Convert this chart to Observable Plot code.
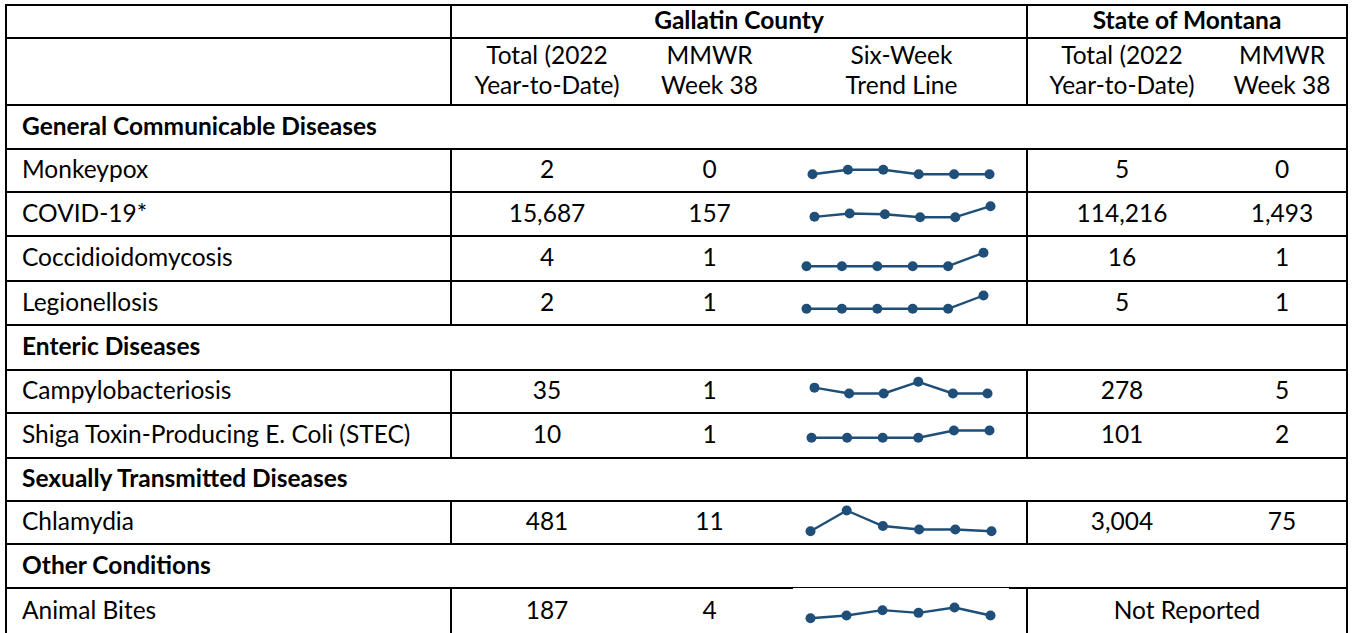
<!DOCTYPE html>
<html>
<head>
<meta charset="utf-8">
<script src="https://cdn.jsdelivr.net/npm/d3@7"></script>
<script src="https://cdn.jsdelivr.net/npm/@observablehq/plot@0.6"></script>
<style>
  body { margin: 0; background: #fff; }
  #wrap { position: relative; width: 1353px; height: 633px; overflow: hidden; font-family: Lato, "Noto Sans", sans-serif; color: #000; }
  .cell { position: absolute; display: flex; align-items: center; justify-content: center; text-align: center; font-size: 24.5px; line-height: 30px; box-sizing: border-box; white-space: nowrap; padding-bottom: 3px; }
  .left { justify-content: flex-start; text-align: left; padding-left: 16px; }
  .bold { font-weight: 700; }
  .hl { position: absolute; background: #000; height: 2px; }
  .vl { position: absolute; background: #000; width: 2px; }
  .spark { position: absolute; }
  .spark svg { display: block; background: transparent; }
  .patch { position: absolute; background: #fff; }
</style>
</head>
<body>
<div id="wrap"></div>
<script>
// ---------- data ----------
const sections = ["General Communicable Diseases", "Enteric Diseases", "Sexually Transmitted Diseases", "Other Conditions"];
const diseases = ["Monkeypox", "COVID-19*", "Coccidioidomycosis", "Legionellosis", "Campylobacteriosis", "Shiga Toxin-Producing E. Coli (STEC)", "Chlamydia", "Animal Bites"];
const diseaseSection = [0, 0, 0, 0, 1, 1, 2, 3];
const gallatinYTD = [2, 15687, 4, 2, 35, 10, 481, 187];
const gallatinWeek38 = [0, 157, 1, 1, 1, 1, 11, 4];
const montanaYTD = [5, 114216, 16, 5, 278, 101, 3004, null];
const montanaWeek38 = [0, 1493, 1, 1, 5, 2, 75, null];
const trendWeeks = [33, 34, 35, 36, 37, 38];
const sixWeekTrend = [
  [0, 1, 1, 0, 0, 0],
  [128, 137, 135, 127, 127, 157],
  [0, 0, 0, 0, 0, 1],
  [0, 0, 0, 0, 0, 1],
  [2, 1, 1, 3, 1, 1],
  [0, 0, 0, 0, 1, 1],
  [11, 23, 14, 12, 12, 11],
  [3, 4, 6, 5, 7, 4]
];
const groupHeaders = ["Gallatin County", "State of Montana"];
const columnHeaders = ["Total (2022<br>Year-to-Date)", "MMWR<br>Week 38", "Six-Week<br>Trend Line", "Total (2022<br>Year-to-Date)", "MMWR<br>Week 38"];
const notReported = "Not Reported";

// ---------- layout ----------
const colLines = [6, 451, 643, 776, 1027, 1217, 1347];
const rowLines = [5, 38, 105, 149, 192, 236, 281, 325, 370, 413, 458, 501, 544, 588, 634];
// sparkline placement inside its cell: [top of max, top of min, x of first, x of last] (offsets from cell corner)
const sparkLayout = [
  [20.3, 24.7, 36, 213],
  [13.7, 24.7, 38, 214],
  [16.3, 29.7, 30, 207],
  [14, 27.3, 30, 207],
  [11.3, 23, 38, 211],
  [17, 24.3, 35, 213],
  [9, 29.7, 34, 215],
  [19, 29.7, 34, 214]
];
const sparkColor = "#1F4E79";

const wrap = document.getElementById("wrap");
const fmt = d3.format(",");

function el(cls, style, html) {
  const d = document.createElement("div");
  d.className = cls;
  Object.assign(d.style, style);
  if (html != null) d.innerHTML = html;
  wrap.appendChild(d);
  return d;
}
function cell(c0, c1, r, html, extra = "") {
  return el("cell " + extra, {
    left: colLines[c0] + "px", top: rowLines[r] + "px",
    width: (colLines[c1] - colLines[c0]) + "px", height: (rowLines[r + 1] - rowLines[r]) + "px"
  }, html);
}
function hline(y, x0, x1) { el("hl", {left: (x0 - 1) + "px", top: (y - 1) + "px", width: (x1 - x0 + 2) + "px"}); }
function vline(x, y0, y1) { el("vl", {left: (x - 1) + "px", top: (y0 - 1) + "px", height: (y1 - y0 + 2) + "px"}); }

// build row list
const rows = [];
sections.forEach((s, si) => {
  rows.push({type: "section", label: s});
  diseases.forEach((d, i) => { if (diseaseSection[i] === si) rows.push({type: "disease", i}); });
});

// header
cell(1, 4, 0, groupHeaders[0], "bold");
cell(4, 6, 0, groupHeaders[1], "bold");
columnHeaders.forEach((h, k) => cell(k + 1, k + 2, 1, h));

// grid lines
rowLines.forEach(y => hline(y, colLines[0], colLines[6]));
vline(colLines[0], rowLines[0], rowLines[rowLines.length - 1]);
vline(colLines[6], rowLines[0], rowLines[rowLines.length - 1]);
for (let r = 0; r < rowLines.length - 1; r++) {
  const isSection = r >= 2 && rows[r - 2].type === "section";
  if (!isSection) {
    vline(colLines[1], rowLines[r], rowLines[r + 1]);
    vline(colLines[4], rowLines[r], rowLines[r + 1]);
  }
}

// body
rows.forEach((row, k) => {
  const r = k + 2;
  if (row.type === "section") {
    cell(0, 6, r, row.label, "left bold");
  } else {
    const i = row.i;
    cell(0, 1, r, diseases[i], "left");
    cell(1, 2, r, fmt(gallatinYTD[i]));
    cell(2, 3, r, fmt(gallatinWeek38[i]));
    if (montanaYTD[i] == null) {
      cell(4, 6, r, notReported);
    } else {
      cell(4, 5, r, fmt(montanaYTD[i]));
      cell(5, 6, r, fmt(montanaWeek38[i]));
    }
    // sparkline
    const H = rowLines[r + 1] - rowLines[r];
    const W = colLines[4] - colLines[3];
    const [yHi, yLo, xFirst, xLast] = sparkLayout[i];
    const data = trendWeeks.map((w, j) => ({week: w, count: sixWeekTrend[i][j]}));
    const chart = Plot.plot({
      width: W, height: H,
      marginTop: yHi, marginBottom: H - yLo, marginLeft: xFirst, marginRight: W - xLast,
      x: {axis: null, domain: d3.extent(trendWeeks)},
      y: {axis: null, domain: d3.extent(sixWeekTrend[i])},
      marks: [
        Plot.line(data, {x: "week", y: "count", stroke: sparkColor, strokeWidth: 2.4}),
        Plot.dot(data, {x: "week", y: "count", r: 5, fill: sparkColor, stroke: "none"})
      ]
    });
    if (i === diseases.length - 1) {
      // the last trend picture sits over the row's top rule, thinning it
      el("patch", {left: "793px", top: rowLines[r] + "px", width: "216px", height: "1px"});
    }
    const holder = el("spark", {left: colLines[3] + "px", top: rowLines[r] + "px", width: W + "px", height: H + "px"});
    holder.appendChild(chart);
  }
});
</script>
</body>
</html>
